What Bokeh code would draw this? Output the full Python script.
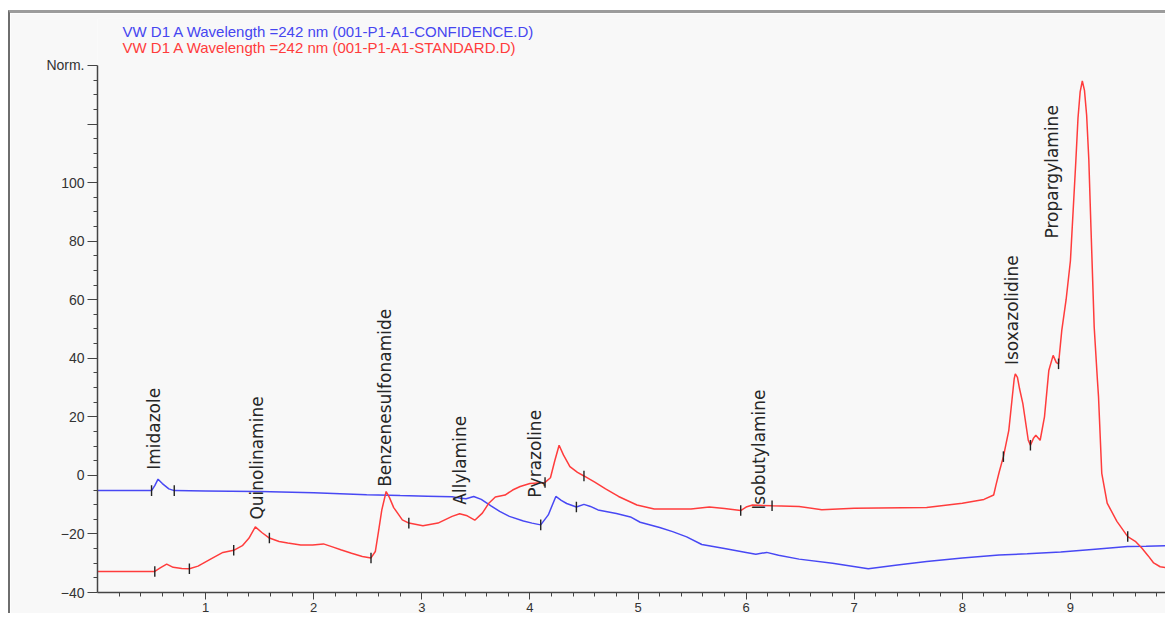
from bokeh.plotting import figure
from bokeh.models import FixedTicker, ColumnDataSource
from bokeh.core.properties import value
from bokeh.embed import file_html
from bokeh.resources import INLINE
import math

# ---- data ----
legend_texts = ["VW D1 A Wavelength =242 nm (001-P1-A1-CONFIDENCE.D)",
                "VW D1 A Wavelength =242 nm (001-P1-A1-STANDARD.D)"]
legend_colors = ["#4646f0", "#ff3c3c"]

blue_time = [0.00, 0.45, 0.50, 0.53, 0.56, 0.60, 0.66, 0.71, 1.00, 1.50, 2.00, 2.49, 2.80,
             3.05, 3.28, 3.36, 3.41, 3.48, 3.55, 3.64, 3.72, 3.81, 3.94, 4.02, 4.10, 4.17,
             4.24, 4.29, 4.34, 4.43, 4.50, 4.56, 4.63, 4.80, 4.93, 5.02, 5.20, 5.32, 5.45,
             5.59, 5.80, 6.00, 6.09, 6.19, 6.30, 6.49, 6.80, 7.13, 7.40, 7.67, 8.00, 8.34,
             8.60, 8.91, 9.20, 9.53, 9.70, 9.91]
blue_signal = [-5.2, -5.2, -5.2, -3.5, -1.3, -2.8, -4.6, -5.2, -5.3, -5.5, -5.9, -6.6, -6.9,
               -7.1, -7.3, -7.8, -8.0, -7.2, -8.2, -10.4, -12.3, -14.0, -15.6, -16.3, -16.9, -13.5,
               -7.2, -8.5, -9.6, -10.8, -9.9, -10.6, -11.8, -13.0, -14.2, -16.0, -17.8, -19.2, -21.0,
               -23.6, -25.0, -26.3, -26.9, -26.3, -27.3, -28.6, -30.0, -31.9, -30.6, -29.4, -28.2, -27.2,
               -26.8, -26.2, -25.3, -24.3, -24.2, -24.0]

red_time = [0.00, 0.50, 0.53, 0.58, 0.64, 0.70, 0.78, 0.85, 0.93, 1.05, 1.16, 1.26, 1.34,
            1.40, 1.46, 1.52, 1.59, 1.68, 1.76, 1.88, 1.99, 2.09, 2.18, 2.25, 2.35, 2.45,
            2.53, 2.57, 2.60, 2.63, 2.67, 2.70, 2.74, 2.82, 2.88, 3.01, 3.15, 3.28, 3.35,
            3.42, 3.49, 3.56, 3.62, 3.68, 3.77, 3.84, 3.91, 4.00, 4.07, 4.14, 4.19, 4.23,
            4.27, 4.31, 4.37, 4.44, 4.50, 4.60, 4.70, 4.82, 4.99, 5.15, 5.49, 5.66, 5.80,
            5.95, 6.00, 6.06, 6.24, 6.49, 6.70, 7.00, 7.67, 8.00, 8.20, 8.29, 8.31, 8.34,
            8.38, 8.43, 8.46, 8.48, 8.49, 8.51, 8.53, 8.56, 8.61, 8.63, 8.66, 8.68, 8.72,
            8.76, 8.80, 8.84, 8.87, 8.89, 8.92, 8.96, 9.00, 9.05, 9.07, 9.09, 9.11, 9.13,
            9.15, 9.17, 9.19, 9.22, 9.25, 9.26, 9.29, 9.34, 9.43, 9.53, 9.60, 9.66, 9.72,
            9.77, 9.83, 9.91]
red_signal = [-32.8, -32.8, -32.8, -31.6, -30.3, -31.4, -31.8, -31.9, -31.0, -28.5, -26.3, -25.6, -24.0,
              -21.5, -17.6, -19.5, -21.4, -22.6, -23.1, -23.8, -23.8, -23.4, -24.5, -25.4, -26.6, -27.7,
              -28.2, -26.0, -19.0, -11.8, -5.5, -7.5, -11.0, -15.2, -16.3, -17.2, -16.3, -14.0, -13.1,
              -13.8, -15.3, -12.9, -9.5, -7.4, -6.7, -5.0, -3.8, -2.8, -2.6, -2.4, -0.8, 5.0,
              10.3, 7.0, 3.0, 1.0, -0.2, -2.3, -4.6, -7.2, -10.1, -11.5, -11.5, -10.8, -11.3,
              -12.0, -10.8, -10.1, -10.4, -10.6, -11.7, -11.2, -11.0, -9.5, -8.2, -6.7, -3.5, 1.0,
              6.4, 15.4, 26.0, 33.0, 34.7, 33.5, 29.5, 24.5, 12.0, 10.3, 12.8, 13.7, 12.0,
              20.0, 35.8, 41.0, 38.5, 38.1, 49.5, 60.0, 73.3, 107.3, 122.0, 131.0, 134.7, 131.5,
              123.0, 108.0, 84.6, 50.6, 32.4, 26.8, 0.7, -9.5, -15.7, -20.9, -22.5, -24.8, -27.5,
              -29.9, -31.2, -31.6]

# integration tick marks (time, signal)
blue_mark_time = [0.50, 0.71, 4.10, 4.43]
blue_mark_signal = [-5.2, -5.2, -16.9, -10.8]
red_mark_time = [0.53, 0.85, 1.26, 1.59, 2.53, 2.88, 4.14, 4.50, 5.95, 6.24, 8.38, 8.63, 8.89, 9.53]
red_mark_signal = [-32.8, -31.9, -25.6, -21.4, -28.2, -16.3, -2.4, -0.2, -12.0, -10.4, 6.4, 10.3, 38.1, -20.9]

peak_names = ["Imidazole", "Quinolinamine", "Benzenesulfonamide", "Allylamine",
              "Pyrazoline", "Isobutylamine", "Isoxazolidine", "Propargylamine"]
peak_time = [0.52, 1.475, 2.66, 3.35, 4.05, 6.115, 8.46, 8.83]
peak_label_base = [1.9, -15.1, -3.9, -10.0, -7.6, -11.7, 37.7, 80.9]

y_major = [-40, -20, 0, 20, 40, 60, 80, 100, 120, 140]
y_labels = {120: "", 140: "Norm."}
x_major = [1, 2, 3, 4, 5, 6, 7, 8, 9]

# ---- figure ----
BG = "#f8f8f8"
# the plotting frame extends above the axis top so the two header lines sit inside it
p = figure(width=1157, height=603, x_range=(0, 9.898), y_range=(-40, 156.05),
           output_backend="svg", toolbar_location=None,
           min_border_left=87, min_border_right=0, min_border_top=5, min_border_bottom=24,
           background_fill_color=BG, border_fill_color=BG, outline_line_color=None)
p.styles = {"margin-top": "10px", "margin-left": "8px",
            "border-top": "3px solid #9c9c9c", "border-left": "2px solid #6e6e6e"}
p.xgrid.visible = False
p.ygrid.visible = False

blue_c = "#4848f4"
red_c = "#ff3c3c"
p.line(blue_time, blue_signal, line_color=blue_c, line_width=1.5)
p.line(red_time, red_signal, line_color=red_c, line_width=1.5)

mark_half = 1.8
p.segment(x0=blue_mark_time, y0=[v - mark_half for v in blue_mark_signal],
          x1=blue_mark_time, y1=[v + mark_half for v in blue_mark_signal],
          line_color="#222222", line_width=1.4)
p.segment(x0=red_mark_time, y0=[v - mark_half for v in red_mark_signal],
          x1=red_mark_time, y1=[v + mark_half for v in red_mark_signal],
          line_color="#222222", line_width=1.4)

src = ColumnDataSource(dict(x=peak_time, y=peak_label_base, name=peak_names))
p.text(x="x", y="y", text="name", source=src, angle=math.pi / 2,
       text_align="left", text_baseline="middle", text_color="#262626",
       text_font=value("DejaVu Sans"), text_font_size="17px")

# header lines
hdr = ColumnDataSource(dict(x=[0.231, 0.231], y=[151.6, 146.15], t=legend_texts, c=legend_colors))
p.text(x="x", y="y", text="t", text_color="c", source=hdr, text_align="left",
       text_baseline="middle", text_font=value("Liberation Sans"), text_font_size="15px")

# axes
ax = p.yaxis[0]
ax.bounds = (-40, 140)
ax.ticker = FixedTicker(ticks=y_major, minor_ticks=[v for v in range(-40, 141, 5) if v % 20])
ax.major_label_overrides = y_labels
ax.major_tick_out = 10
ax.major_tick_in = 0
ax.minor_tick_out = 4
ax.minor_tick_in = 0
ax.major_label_standoff = 3
ax.major_label_text_font = "Liberation Sans"
ax.major_label_text_font_size = "14px"
ax.major_label_text_color = "#333333"
ax.axis_line_color = "#444444"
ax.axis_line_width = 1.5
ax.major_tick_line_color = "#444444"
ax.minor_tick_line_color = "#444444"

bx = p.xaxis[0]
bx.ticker = FixedTicker(ticks=x_major,
                        minor_ticks=[round(i * 0.2, 1) for i in range(1, 50) if i % 5])
bx.major_tick_out = 7
bx.major_tick_in = 0
bx.minor_tick_out = 4
bx.minor_tick_in = 0
bx.major_label_standoff = 3
bx.major_label_text_font = "Liberation Sans"
bx.major_label_text_font_size = "13px"
bx.major_label_text_color = "#333333"
bx.axis_line_color = "#444444"
bx.axis_line_width = 1.5
bx.major_tick_line_color = "#444444"
bx.minor_tick_line_color = "#444444"

open("out.html", "w").write(file_html(p, INLINE))
